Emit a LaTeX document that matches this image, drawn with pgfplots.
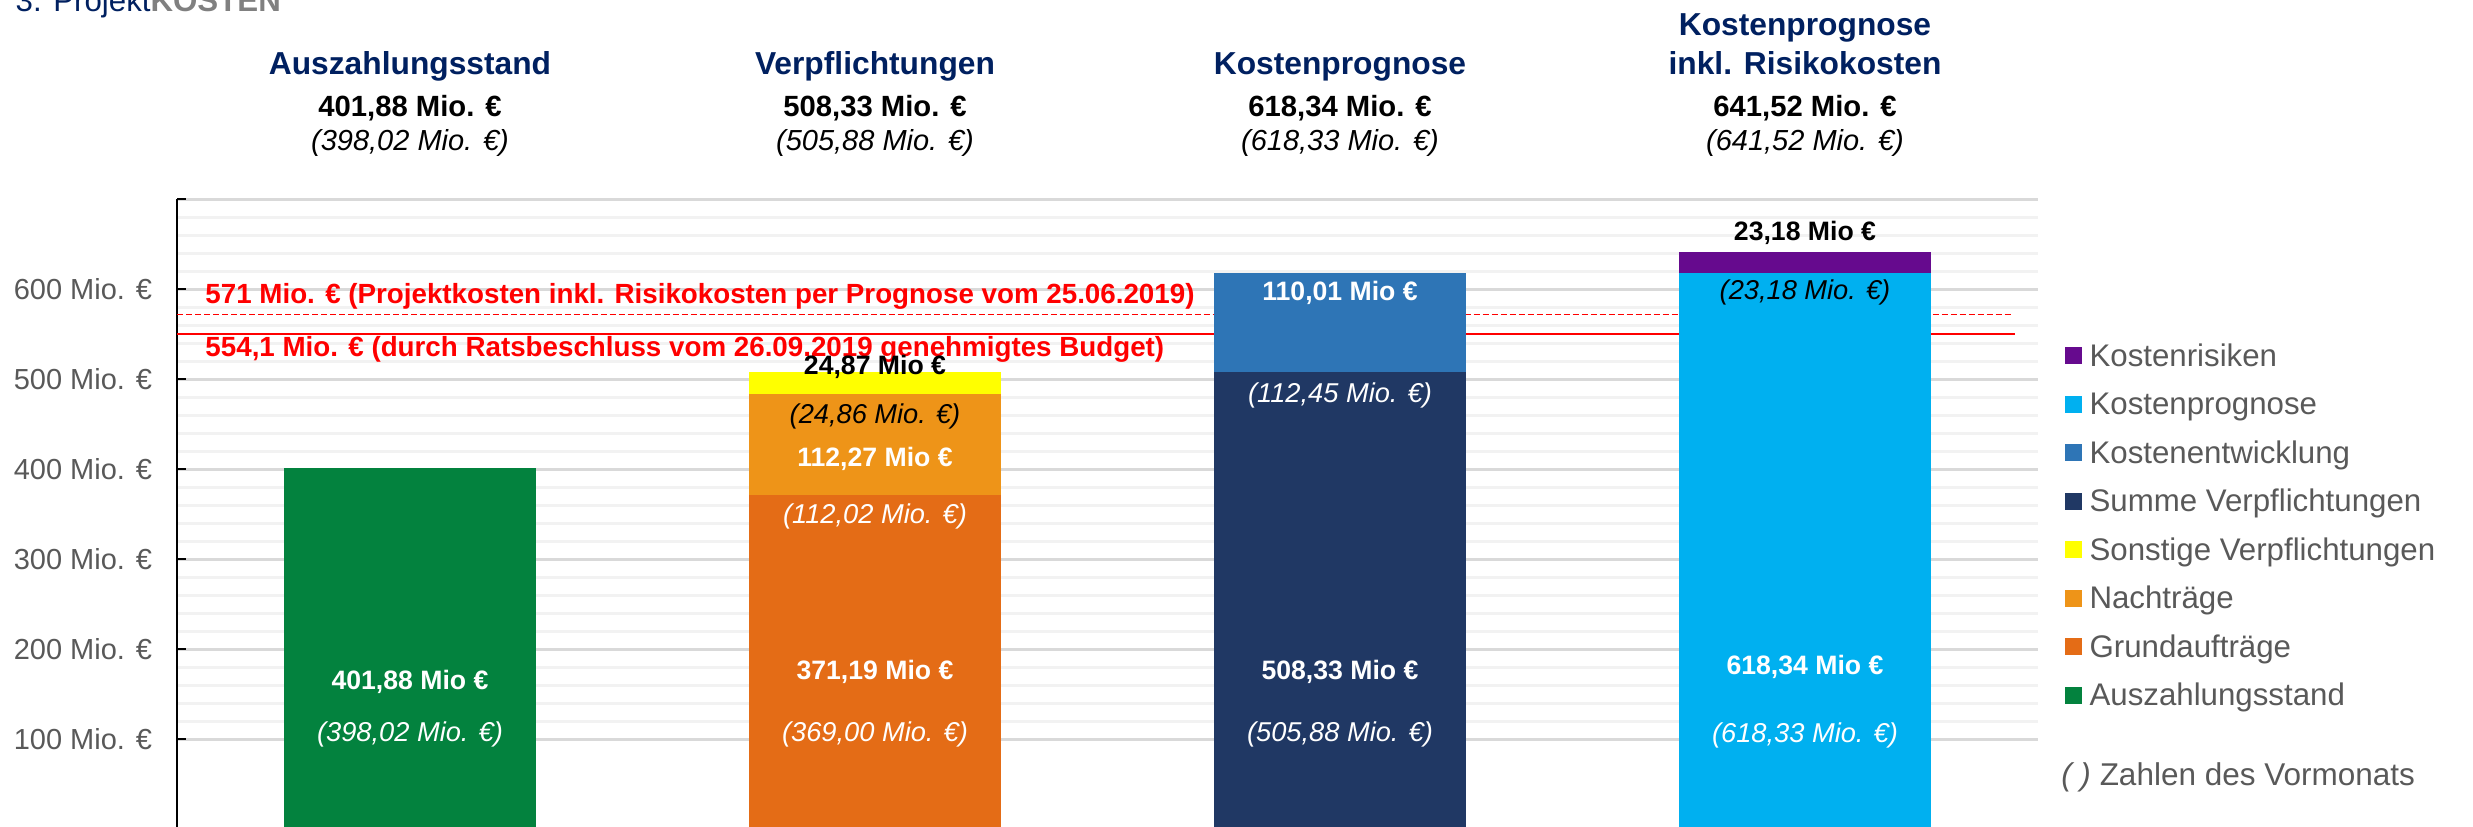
\documentclass[border=0pt]{standalone}
\usepackage{pgfplots}
\pgfplotsset{compat=1.18}
\usepackage{fontspec}
\setmainfont{Liberation Sans}
\definecolor{cGreen}{HTML}{03823E}
\definecolor{cGrund}{HTML}{E46C16}
\definecolor{cNach}{HTML}{EE9418}
\definecolor{cSonst}{HTML}{FFFF00}
\definecolor{cSumme}{HTML}{203864}
\definecolor{cEntw}{HTML}{2E75B6}
\definecolor{cProg}{HTML}{00B0F0}
\definecolor{cRisk}{HTML}{660A8E}
\definecolor{cTitle}{HTML}{002060}
\definecolor{cGray}{HTML}{595959}
\definecolor{cRed}{HTML}{FF0000}
\newcommand\fs[1]{\fontsize{#1}{#1}\selectfont}
\tikzset{bl/.style={font=\bfseries\fs{10.65pt}}, il/.style={font=\itshape\fs{10.9pt}}}
\begin{document}
\begin{tikzpicture}
\begin{axis}[name=ax, at={(0pt,0pt)}, anchor=south west,
  scale only axis, width=744pt, height=252pt,
  xmin=-0.5, xmax=3.5, ymin=0, ymax=700, enlargelimits=false,
  ybar stacked, bar width=100.8pt,
  axis x line=none, axis y line*=left,
  axis line style={-, line width=0.8pt, black},
  xtick=\empty,
  ytick={100,200,300,400,500,600,700},
  yticklabels={100 Mio. €,200 Mio. €,300 Mio. €,400 Mio. €,500 Mio. €,600 Mio. €,{}},
  minor y tick num=4,
  ymajorgrids, yminorgrids,
  major grid style={draw=black!15, line width=1.1pt},
  minor grid style={draw=black!5, line width=1.1pt},
  tick align=inside, major tick length=3.4pt, minor tick length=0pt,
  ytick style={black, line width=0.8pt},
  yticklabel style={font=\fs{11.6pt}, text=cGray, xshift=-6.7pt},
  clip=false,
  reverse legend,
  legend cell align=left,
  legend image code/.code={\fill[#1,draw=none] (0pt,-2.2pt) rectangle (6.8pt,4.6pt); \path (9.8pt,0pt);},
  legend style={at={(1.0148,0.7711)}, anchor=north west, draw=none, fill=none,
    inner sep=0pt, outer sep=0pt, row sep=7.4pt, font=\fs{12.5pt}, text=cGray,
    nodes={inner sep=0pt, text height=9pt, text depth=3pt}},
]
\addplot[fill=cGreen, draw=none] coordinates {(0,401.88) (1,0) (2,0) (3,0)};
\addlegendentry{Auszahlungsstand}
\addplot[fill=cGrund, draw=none] coordinates {(0,0) (1,371.19) (2,0) (3,0)};
\addlegendentry{Grundaufträge}
\addplot[fill=cNach, draw=none] coordinates {(0,0) (1,112.27) (2,0) (3,0)};
\addlegendentry{Nachträge}
\addplot[fill=cSonst, draw=none] coordinates {(0,0) (1,24.87) (2,0) (3,0)};
\addlegendentry{Sonstige Verpflichtungen}
\addplot[fill=cSumme, draw=none] coordinates {(0,0) (1,0) (2,508.33) (3,0)};
\addlegendentry{Summe Verpflichtungen}
\addplot[fill=cEntw, draw=none] coordinates {(0,0) (1,0) (2,110.01) (3,0)};
\addlegendentry{Kostenentwicklung}
\addplot[fill=cProg, draw=none] coordinates {(0,0) (1,0) (2,0) (3,618.34)};
\addlegendentry{Kostenprognose}
\addplot[fill=cRisk, draw=none] coordinates {(0,0) (1,0) (2,0) (3,23.18)};
\addlegendentry{Kostenrisiken}

\addplot[forget plot, sharp plot, stack plots=false, draw=cRed, line width=0.5pt, dash pattern=on 2.4pt off 1.2pt] coordinates {(-0.5,572) (3.447,572)};
\addplot[forget plot, sharp plot, stack plots=false, draw=cRed, line width=0.7pt] coordinates {(-0.5,550.5) (3.451,550.5)};

% red labels
\coordinate (r1) at (axis cs:-0.4409,583.7);
\coordinate (r2) at (axis cs:-0.4409,525.1);
% headers
\coordinate (h0a) at (axis cs:0,839);
\coordinate (h0b) at (axis cs:0,792);
\coordinate (h0c) at (axis cs:0,754);
\coordinate (h1a) at (axis cs:1,839);
\coordinate (h1b) at (axis cs:1,792);
\coordinate (h1c) at (axis cs:1,754);
\coordinate (h2a) at (axis cs:2,839);
\coordinate (h2b) at (axis cs:2,792);
\coordinate (h2c) at (axis cs:2,754);
\coordinate (h3t) at (axis cs:3,882);
\coordinate (h3a) at (axis cs:3,839);
\coordinate (h3b) at (axis cs:3,792);
\coordinate (h3c) at (axis cs:3,754);
\coordinate (top) at (axis cs:-0.849,909.2);
% bar labels
\coordinate (b0a) at (axis cs:0,164);
\coordinate (b0b) at (axis cs:0,105.5);
\coordinate (b1a) at (axis cs:1,175);
\coordinate (b1b) at (axis cs:1,105.5);
\coordinate (b1c) at (axis cs:1,347.3);
\coordinate (b1d) at (axis cs:1,411);
\coordinate (b1e) at (axis cs:1,458.5);
\coordinate (b1f) at (axis cs:1,514);
\coordinate (b2a) at (axis cs:2,175);
\coordinate (b2b) at (axis cs:2,105.5);
\coordinate (b2c) at (axis cs:2,482.6);
\coordinate (b2d) at (axis cs:2,595.5);
\coordinate (b3a) at (axis cs:3,180.7);
\coordinate (b3b) at (axis cs:3,104.8);
\coordinate (b3c) at (axis cs:3,596.2);
\coordinate (b3d) at (axis cs:3,662.2);
\coordinate (note) at (axis cs:3.55,58.1);
\end{axis}

\node[anchor=base west, inner sep=0pt, font=\bfseries\fs{11.1pt}, text=cRed] at (r1) {571 Mio. € (Projektkosten inkl. Risikokosten per Prognose vom 25.06.2019)};
\node[anchor=base west, inner sep=0pt, font=\bfseries\fs{11.1pt}, text=cRed] at (r2) {554,1 Mio. € (durch Ratsbeschluss vom 26.09.2019 genehmigtes Budget)};

\node[anchor=base, inner sep=0pt, font=\bfseries\fs{12.7pt}, text=cTitle] at (h0a) {Auszahlungsstand};
\node[anchor=base, inner sep=0pt, font=\bfseries\fs{11.7pt}] at (h0b) {401,88 Mio. €};
\node[anchor=base, inner sep=0pt, font=\itshape\fs{11.6pt}] at (h0c) {(398,02 Mio. €)};
\node[anchor=base, inner sep=0pt, font=\bfseries\fs{12.7pt}, text=cTitle] at (h1a) {Verpflichtungen};
\node[anchor=base, inner sep=0pt, font=\bfseries\fs{11.7pt}] at (h1b) {508,33 Mio. €};
\node[anchor=base, inner sep=0pt, font=\itshape\fs{11.6pt}] at (h1c) {(505,88 Mio. €)};
\node[anchor=base, inner sep=0pt, font=\bfseries\fs{12.7pt}, text=cTitle] at (h2a) {Kostenprognose};
\node[anchor=base, inner sep=0pt, font=\bfseries\fs{11.7pt}] at (h2b) {618,34 Mio. €};
\node[anchor=base, inner sep=0pt, font=\itshape\fs{11.6pt}] at (h2c) {(618,33 Mio. €)};
\node[anchor=base, inner sep=0pt, font=\bfseries\fs{12.7pt}, text=cTitle] at (h3t) {Kostenprognose};
\node[anchor=base, inner sep=0pt, font=\bfseries\fs{12.7pt}, text=cTitle] at (h3a) {inkl. Risikokosten};
\node[anchor=base, inner sep=0pt, font=\bfseries\fs{11.7pt}] at (h3b) {641,52 Mio. €};
\node[anchor=base, inner sep=0pt, font=\itshape\fs{11.6pt}] at (h3c) {(641,52 Mio. €)};
\node[anchor=base west, inner sep=0pt, font=\fs{12.5pt}] at (top) {\textcolor{cTitle}{3. Projekt}\textcolor{black!50}{\bfseries KOSTEN}};

\node[bl, text=white] at (b0a) {401,88 Mio €};
\node[il, text=white] at (b0b) {(398,02 Mio. €)};
\node[bl, text=white] at (b1a) {371,19 Mio €};
\node[il, text=white] at (b1b) {(369,00 Mio. €)};
\node[il, text=white] at (b1c) {(112,02 Mio. €)};
\node[bl, text=white] at (b1d) {112,27 Mio €};
\node[il, text=black] at (b1e) {(24,86 Mio. €)};
\node[bl, text=black] at (b1f) {24,87 Mio €};
\node[bl, text=white] at (b2a) {508,33 Mio €};
\node[il, text=white] at (b2b) {(505,88 Mio. €)};
\node[il, text=white] at (b2c) {(112,45 Mio. €)};
\node[bl, text=white] at (b2d) {110,01 Mio €};
\node[bl, text=white] at (b3a) {618,34 Mio €};
\node[il, text=white] at (b3b) {(618,33 Mio. €)};
\node[il, text=black] at (b3c) {(23,18 Mio. €)};
\node[bl, text=black] at (b3d) {23,18 Mio €};

\node[anchor=west, inner sep=0pt, font=\fs{12.6pt}, text=cGray] at (note) {\textit{( )} Zahlen des Vormonats};

\pgfresetboundingbox
\path[use as bounding box] ([shift={(-71pt,0.92pt)}]ax.south west) rectangle ([shift={(918.2pt,331.72pt)}]ax.south west);
\end{tikzpicture}
\end{document}
